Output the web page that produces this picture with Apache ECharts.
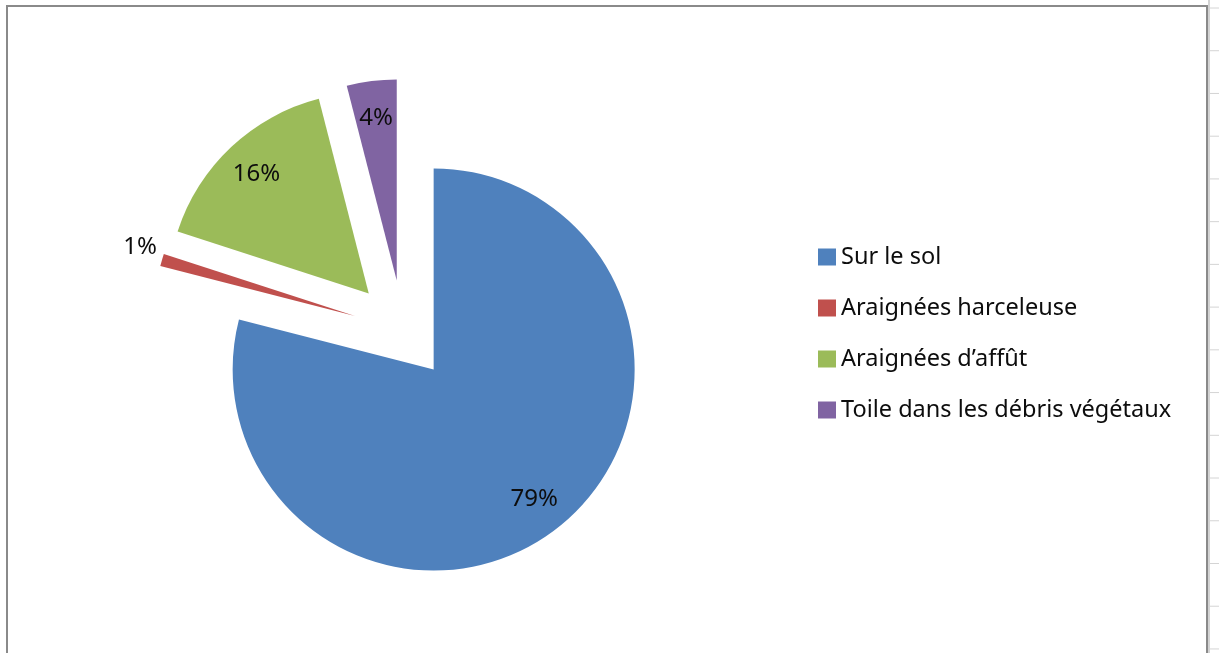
<!DOCTYPE html>
<html>
<head>
<meta charset="utf-8">
<script src="https://cdn.jsdelivr.net/npm/echarts@6/dist/echarts.min.js"></script>
<style>
  html, body { margin: 0; padding: 0; background: #fff; }
  #main { width: 1219px; height: 653px; }
</style>
</head>
<body>
<div id="main"></div>
<script>
var categories = ['Sur le sol', 'Araignées harceleuse', 'Araignées d’affût', 'Toile dans les débris végétaux'];
var shares = [79, 1, 16, 4];
var colors = ['#4F81BD', '#C0504D', '#9BBB59', '#8064A2'];

var dom = document.getElementById('main');
var myChart = echarts.init(dom);

var pieCenter = [403, 330];
var labelFont = { fontFamily: 'Noto Sans', fontSize: 24, color: '#0d0d0d' };

// decoration: chart frame + the spreadsheet gridlines to the right of it
var gridMarks = [];
for (var k = 0; k < 16; k++) {
  gridMarks.push({
    type: 'line',
    shape: { x1: 1209, y1: 8 + k * 42.73, x2: 1219, y2: 8 + k * 42.73 },
    style: { stroke: '#d4d4d4', lineWidth: 1 }
  });
}

option = {
  backgroundColor: '#fff',
  animation: false,
  legend: {
    orient: 'vertical',
    left: 813,
    top: 240,
    itemWidth: 18,
    itemHeight: 17,
    itemGap: 27,
    icon: 'rect',
    data: categories,
    textStyle: { fontFamily: 'Noto Sans', fontSize: 23.5, lineHeight: 23, color: '#0d0d0d' }
  },
  graphic: [
    {
      type: 'rect',
      shape: { x: 7, y: 6, width: 1200, height: 660 },
      style: { fill: 'none', stroke: '#8a8a8a', lineWidth: 2 },
      silent: true
    },
    {
      type: 'line',
      shape: { x1: 1209, y1: 0, x2: 1209, y2: 653 },
      style: { stroke: '#c4c4c4', lineWidth: 1.5 },
      silent: true
    }
  ].concat(gridMarks),
  series: [
    {
      name: 'parts',
      type: 'pie',
      center: pieCenter,
      radius: 201,
      startAngle: 90,
      selectedMode: 'multiple',
      selectedOffset: 50,
      avoidLabelOverlap: false,
      label: { show: false },
      labelLine: { show: false, length: 0, length2: 0 },
      select: { itemStyle: { borderWidth: 0 } },
      emphasis: { disabled: true },
      data: categories.map(function (name, i) {
        var item = {
          name: name,
          value: shares[i],
          selected: true,
          itemStyle: { color: colors[i], borderWidth: 0 }
        };
        if (shares[i] < 3) {
          // blank second line lifts the text above the slice tip, as in Excel
          item.label = Object.assign({
            show: true,
            position: 'outside',
            formatter: '{c}%\n ',
            lineHeight: 26
          }, labelFont);
        }
        return item;
      })
    },
    {
      name: 'labels',
      type: 'pie',
      center: pieCenter,
      radius: 322,
      startAngle: 90,
      silent: true,
      legendHoverLink: false,
      selectedMode: 'multiple',
      selectedOffset: 50,
      avoidLabelOverlap: false,
      itemStyle: { color: 'rgba(0,0,0,0)', borderWidth: 0 },
      select: { itemStyle: { color: 'rgba(0,0,0,0)', borderWidth: 0 } },
      emphasis: { disabled: true },
      labelLine: { show: false },
      label: Object.assign({ show: true, position: 'inside', formatter: '{c}%' }, labelFont),
      data: categories.map(function (name, i) {
        return {
          name: name,
          value: shares[i],
          selected: true,
          label: { show: shares[i] >= 3 }
        };
      })
    }
  ]
};

if (option && typeof option === 'object') {
  myChart.setOption(option);
}
</script>
</body>
</html>
